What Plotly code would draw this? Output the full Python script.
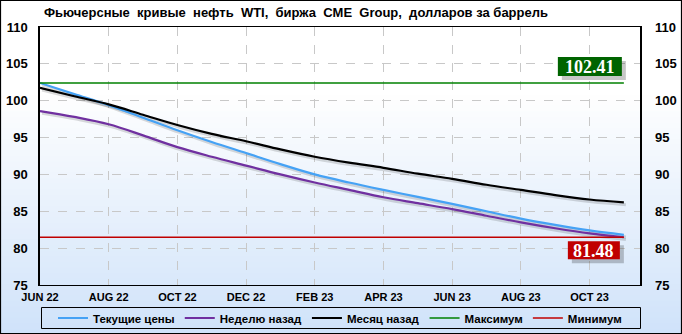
import plotly.graph_objects as go

months = ["JUN 22", "JUL 22", "AUG 22", "SEP 22", "OCT 22", "NOV 22", "DEC 22", "JAN 23", "FEB 23",
          "MAR 23", "APR 23", "MAY 23", "JUN 23", "JUL 23", "AUG 23", "SEP 23", "OCT 23", "NOV 23"]
current = [102.41, 100.9, 99.4, 97.7, 96.0, 94.4, 92.9, 91.4, 90.0,
           88.9, 87.9, 86.95, 86.0, 85.0, 84.0, 83.15, 82.4, 81.8]
week_ago = [98.6, 97.8, 96.8, 95.3, 93.7, 92.4, 91.2, 90.0, 88.9,
            87.9, 86.9, 86.1, 85.3, 84.4, 83.5, 82.7, 82.0, 81.48]
month_ago = [101.75, 100.6, 99.5, 98.1, 96.7, 95.5, 94.5, 93.4, 92.4,
             91.6, 90.9, 90.1, 89.4, 88.6, 87.9, 87.2, 86.6, 86.2]
max_val = 102.41
min_val = 81.48
y_ticks = [75, 80, 85, 90, 95, 100, 105, 110]

idx = list(range(len(months)))
tick_idx = idx[::2]
tick_text = months[::2]

PW, PH = 600, 258  # plot area size in px
L, R, T, B = 40, 42, 27, 49

def px_x(p):  # figure pixel x -> paper
    return (p - L) / PW

def px_y(p):  # figure pixel y (from top) -> paper
    return (T + PH - p) / PH

fig = go.Figure()

# gradient background strips
n = 60
for i in range(n):
    t = (i + 0.5) / n
    w = min(1.0, t / 0.72)
    r = int(208 + (255 - 208) * w)
    g = int(227 + (255 - 227) * w)
    b = int(250 + (255 - 250) * w)
    y0 = px_y(334) + (px_y(0) - px_y(334)) * i / n
    y1 = px_y(334) + (px_y(0) - px_y(334)) * (i + 1) / n + 0.003
    fig.add_shape(type="rect", xref="paper", yref="paper",
                  x0=px_x(0), x1=px_x(682), y0=y0, y1=y1,
                  fillcolor=f"rgb({r},{g},{b})", line=dict(width=0), layer="below")

# outer border
fig.add_shape(type="rect", xref="paper", yref="paper",
              x0=px_x(0.5), x1=px_x(681.5), y0=px_y(333.5), y1=px_y(0.5),
              line=dict(color="black", width=1.2), layer="above")
# legend border
fig.add_shape(type="rect", xref="paper", yref="paper",
              x0=px_x(41.5), x1=px_x(640.5), y0=px_y(328.5), y1=px_y(307.5),
              line=dict(color="black", width=1), layer="above")

series = [
    ("Текущие цены", current, "#45a2f5"),
    ("Неделю назад", week_ago, "#7030a0"),
    ("Месяц назад", month_ago, "#000000"),
]

# shadows
for name, vals, col in series:
    fig.add_trace(go.Scatter(x=[i + 0.06 for i in idx], y=[v - 0.3 for v in vals], mode="lines",
                             line=dict(color="rgba(0,0,0,0.14)", width=3, shape="spline"),
                             showlegend=False, hoverinfo="skip"))

for name, vals, col in series:
    fig.add_trace(go.Scatter(x=idx, y=vals, mode="lines", name=name,
                             line=dict(color=col, width=2.2, shape="spline")))

fig.add_trace(go.Scatter(x=[idx[0], idx[-1]], y=[max_val, max_val], mode="lines", name="Максимум",
                         line=dict(color="#008000", width=1.4)))
fig.add_trace(go.Scatter(x=[idx[0], idx[-1]], y=[min_val, min_val], mode="lines", name="Минимум",
                         line=dict(color="#c00000", width=1.4)))
fig.add_trace(go.Scatter(x=[idx[0]], y=[min_val], yaxis="y2", mode="markers",
                         marker=dict(opacity=0), showlegend=False, hoverinfo="skip"))

# value label boxes (pixel-sized shapes anchored at last point)
boxes = [(max_val, "#006400", -66, -2, 7, 26), (min_val, "#c00000", -56, -4, -22, -4)]
for val, col, bx0, bx1, by0, by1 in boxes:
    fig.add_shape(type="rect", xref="x", yref="y", xsizemode="pixel", ysizemode="pixel",
                  xanchor=idx[-1], yanchor=val, x0=bx0 + 4, x1=bx1 + 4, y0=by0 - 4, y1=by1 - 4,
                  fillcolor="rgba(0,0,0,0.22)", line=dict(width=0), layer="above")
    fig.add_shape(type="rect", xref="x", yref="y", xsizemode="pixel", ysizemode="pixel",
                  xanchor=idx[-1], yanchor=val, x0=bx0, x1=bx1, y0=by0, y1=by1,
                  fillcolor=col, line=dict(width=0), layer="above")
    fig.add_annotation(x=idx[-1], y=val, text=f"<b>{val:.2f}</b>", showarrow=False,
                       xanchor="center", yanchor="middle",
                       xshift=(bx0 + bx1) / 2, yshift=(by0 + by1) / 2 - 0.5,
                       font=dict(family="Liberation Serif", size=18, color="white"))

fig.add_annotation(xref="paper", yref="paper", x=px_x(42), y=px_y(13),
                   text="<b>Фьючерсные  кривые  нефть  WTI,  биржа  CME  Group,  долларов за баррель</b>",
                   showarrow=False, xanchor="left", yanchor="middle",
                   font=dict(family="Liberation Sans", size=13, color="black"))

axis_font = dict(family="Liberation Sans", size=13, color="black")
fig.update_layout(
    width=682, height=334,
    margin=dict(l=L, r=R, t=T, b=B, autoexpand=False),
    paper_bgcolor="rgba(0,0,0,0)",
    plot_bgcolor="rgba(0,0,0,0)",
    font=dict(family="Liberation Sans", color="black"),
    xaxis=dict(range=[0, 17.47], tickvals=tick_idx, ticktext=[f"<b>{t}</b>" for t in tick_text],
               tickfont=dict(family="Liberation Sans", size=11, color="black"),
               showgrid=True, gridcolor="#c8c8c8", griddash="dash", gridwidth=1,
               showline=True, linecolor="black", linewidth=1, mirror=True,
               ticks="", zeroline=False, ticklabelstandoff=2),
    yaxis=dict(range=[75, 110], tickvals=y_ticks, ticktext=[f"<b>{v}</b>" for v in y_ticks],
               tickfont=axis_font,
               showgrid=True, gridcolor="#c8c8c8", griddash="dash", gridwidth=1,
               showline=True, linecolor="black", linewidth=1.5, mirror=True,
               ticks="", zeroline=False, ticklabelstandoff=8),
    yaxis2=dict(range=[75, 110], tickvals=y_ticks, ticktext=[f"<b>{v}</b>" for v in y_ticks],
                tickfont=axis_font, overlaying="y", side="right", showgrid=False,
                showline=False, zeroline=False, ticks="", ticklabelstandoff=14),
    legend=dict(orientation="h", x=0.5, xanchor="center", y=px_y(318), yanchor="middle",
                borderwidth=0, bgcolor="rgba(0,0,0,0)",
                font=dict(family="Liberation Sans", size=11.5, color="black", weight="bold"),
                itemwidth=30, tracegroupgap=0),
    showlegend=True,
)

fig.write_html("out.html")
